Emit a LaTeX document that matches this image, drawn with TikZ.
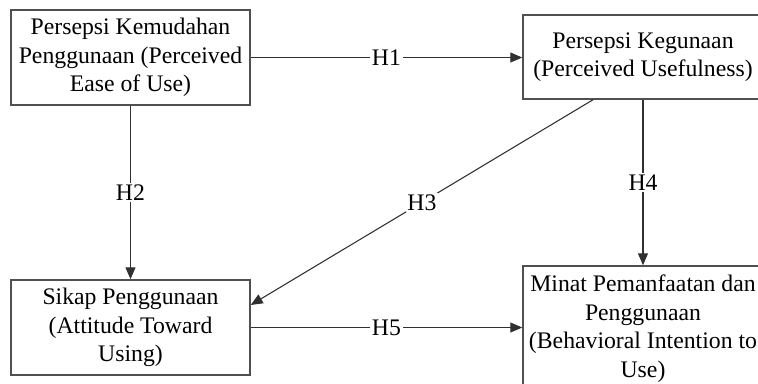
\documentclass[tikz,border=0pt]{standalone}
\usepackage{fontspec}
\setmainfont{Liberation Serif}
\usetikzlibrary{arrows.meta,calc}
\definecolor{boxline}{HTML}{505050}
\definecolor{conline}{HTML}{303030}
\begin{document}
\begin{tikzpicture}[x=0.75pt,y=-0.75pt,
  box/.style={draw=boxline,line width=1.1pt,fill=white,align=center,
    inner sep=0pt,font=\fontsize{17.8}{21.4}\selectfont},
  conn/.style={draw=conline,line width=0.8pt,-{Triangle[length=9pt,width=7.5pt]}},
  hlab/.style={fill=white,inner sep=1.2pt,font=\fontsize{17.8}{21.4}\selectfont}]
\clip (0,0) rectangle (758,383);
\fill[white] (0,0) rectangle (758,383);
\node[box,minimum width=179.25pt,minimum height=71.25pt] (A) at (130.5,57.5)
  {Persepsi Kemudahan\\Penggunaan (Perceived\\Ease of Use)};
\node[box,minimum width=180pt,minimum height=63pt] (B) at (643,57)
  {Persepsi Kegunaan\\(Perceived Usefulness)};
\node[box,minimum width=179.25pt,minimum height=71.25pt] (C) at (130.5,327.5)
  {Sikap Penggunaan\\(Attitude Toward\\Using)};
\node[box,minimum width=180pt,minimum height=93.75pt] (D) at (643,328.5)
  {Minat Pemanfaatan dan\\Penggunaan\\(Behavioral Intention to\\Use)};
\draw[conn] (A.east) -- node[hlab] (h1) {H1} (A.east -| B.west);
\draw[conn] (A.south) -- node[hlab] (h2) {H2} (C.north);
\draw[conn] ($(B.south)+(-50,0)$) -- node[hlab] (h3) {H3} ($(C.east)+(0,-22.5)$);
\draw[conn] (B.south) -- node[hlab] (h4) {H4} (D.north);
\draw[conn] (C.east) -- node[hlab] (h5) {H5} (C.east -| D.west);
\end{tikzpicture}
\end{document}
